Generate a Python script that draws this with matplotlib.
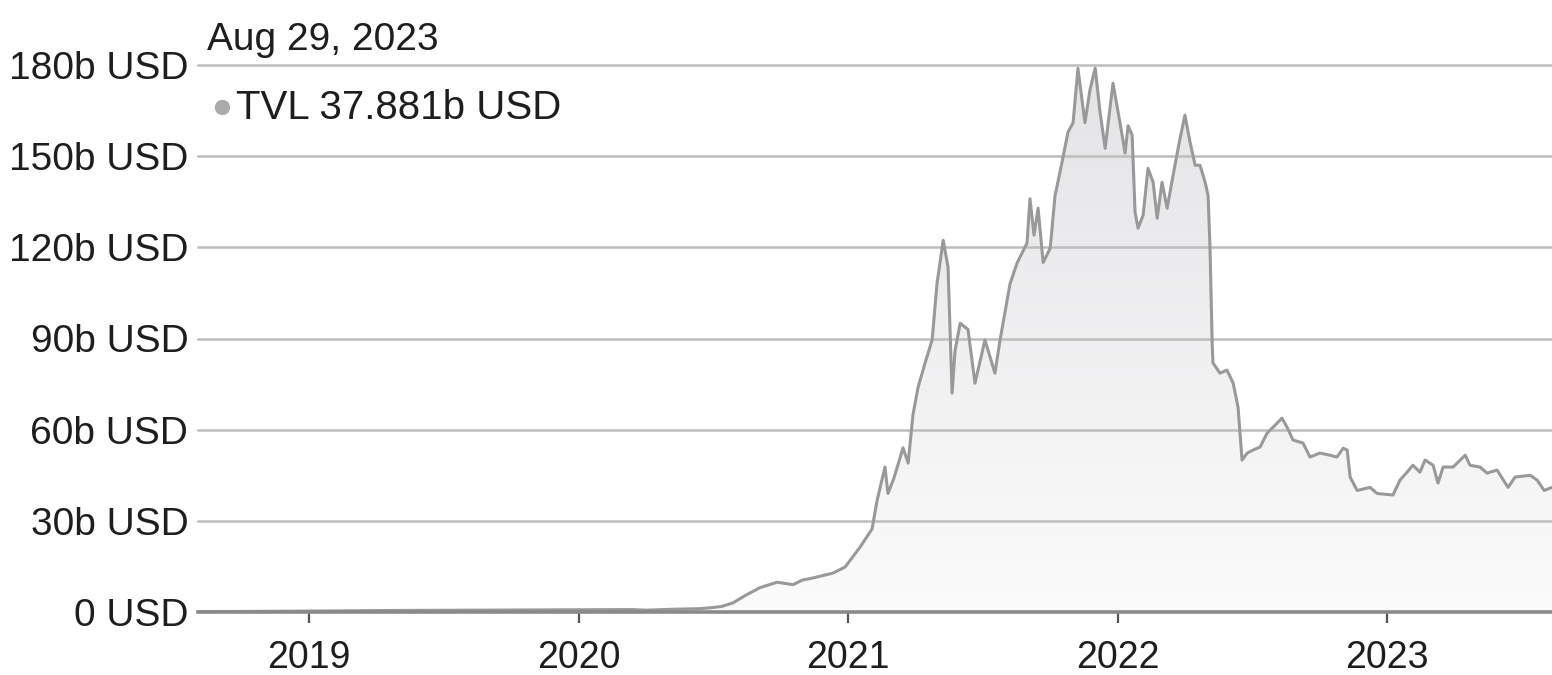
import matplotlib
matplotlib.use("Agg")
import matplotlib.pyplot as plt
import numpy as np
from matplotlib.patches import PathPatch
from matplotlib.path import Path
from matplotlib.colors import LinearSegmentedColormap

plt.rcParams['font.family'] = ['Liberation Sans', 'DejaVu Sans']

# Time in decimal years, TVL in billions USD
years = [2018.59, 2018.80, 2019.00, 2019.30, 2019.60, 2019.85, 2020.00, 2020.20, 2020.25,
         2020.35, 2020.45, 2020.49, 2020.53, 2020.573, 2020.62, 2020.673, 2020.737, 2020.796,
         2020.83, 2020.870, 2020.944, 2020.989, 2021.045, 2021.089, 2021.108, 2021.137,
         2021.148, 2021.17, 2021.204, 2021.223, 2021.241, 2021.260, 2021.286, 2021.312,
         2021.330, 2021.353, 2021.371, 2021.386, 2021.397, 2021.416, 2021.445, 2021.471,
         2021.508, 2021.545, 2021.564, 2021.601, 2021.627, 2021.664, 2021.675, 2021.690,
         2021.705, 2021.724, 2021.750, 2021.768, 2021.794, 2021.816, 2021.835, 2021.853,
         2021.879, 2021.898, 2021.917, 2021.935, 2021.954, 2021.983, 2022.009, 2022.028,
         2022.039, 2022.054, 2022.065, 2022.076, 2022.095, 2022.113, 2022.132, 2022.147,
         2022.165, 2022.184, 2022.206, 2022.232, 2022.250, 2022.269, 2022.288, 2022.306,
         2022.325, 2022.336, 2022.343, 2022.351, 2022.354, 2022.380, 2022.406, 2022.429,
         2022.447, 2022.462, 2022.481, 2022.503, 2022.529, 2022.555, 2022.577, 2022.610,
         2022.629, 2022.651, 2022.688, 2022.714, 2022.751, 2022.788, 2022.814, 2022.837,
         2022.852, 2022.863, 2022.889, 2022.937, 2022.963, 2023.022, 2023.048, 2023.074,
         2023.096, 2023.122, 2023.141, 2023.171, 2023.189, 2023.208, 2023.245, 2023.290,
         2023.308, 2023.345, 2023.371, 2023.408, 2023.449, 2023.475, 2023.531, 2023.557,
         2023.583, 2023.612]
tvl = [0.1, 0.2, 0.3, 0.5, 0.6, 0.65, 0.7, 0.8, 0.6,
       0.9, 1.1, 1.4, 1.8, 3.0, 5.5, 8.0, 9.8, 9.0,
       10.5, 11.2, 12.8, 14.8, 21.4, 27.3, 36.8, 47.7,
       39.0, 44.0, 54.0, 49.0, 65.0, 74.0, 82.0, 89.5,
       108.0, 122.3, 113.5, 72.0, 86.0, 95.0, 93.0, 75.3,
       89.5, 78.6, 89.5, 108.0, 114.8, 121.4, 136.0, 124.0,
       132.9, 115.0, 119.7, 137.0, 148.0, 157.9, 161.0, 178.9,
       161.0, 172.0, 179.0, 164.5, 152.6, 174.0, 161.0, 151.0,
       160.0, 157.0, 131.6, 126.3, 130.6, 146.0, 141.4, 129.6,
       141.4, 132.9, 143.7, 155.9, 163.5, 154.6, 147.0, 147.0,
       141.4, 137.0, 120.0, 88.8, 82.0, 78.6, 79.6, 75.3,
       67.4, 50.0, 52.3, 53.3, 54.3, 58.9, 60.8, 63.8,
       60.8, 56.6, 55.6, 51.0, 52.3, 51.6, 51.0, 53.9,
       53.3, 44.4, 40.0, 41.0, 39.0, 38.5, 43.4, 46.0,
       48.3, 46.0, 50.0, 48.3, 42.4, 47.7, 47.7, 51.6,
       48.3, 47.7, 45.7, 46.7, 41.0, 44.4, 45.0, 43.4,
       40.0, 41.0]

y_ticks = [0, 30, 60, 90, 120, 150, 180]
y_labels = ['0 USD', '30b USD', '60b USD', '90b USD', '120b USD', '150b USD', '180b USD']
x_ticks = [2019, 2020, 2021, 2022, 2023]
x_labels = ['2019', '2020', '2021', '2022', '2023']
date_label = 'Aug 29, 2023'
legend_label = 'TVL 37.881b USD'

W, H = 1552, 675
fig = plt.figure(figsize=(W / 100, H / 100), dpi=100)
ax = fig.add_axes([198 / W, 1 - 612 / H, 1 - 198 / W, (612 - 65) / H])

x0, x1 = 2018.588, 2023.612
ax.set_xlim(x0, x1)
ax.set_ylim(0, 180)

# gradient fill under curve
xs = np.array(years)
ys = np.array(tvl)
verts = [(xs[0], 0)] + list(zip(xs, ys)) + [(xs[-1], 0)]
patch = PathPatch(Path(verts), facecolor='none', edgecolor='none')
ax.add_patch(patch)
grad = np.linspace(0, 1, 256).reshape(-1, 1)
cmap = LinearSegmentedColormap.from_list('g', ['#fbfbfb', '#e4e4e7'])
im = ax.imshow(grad, extent=[x0, x1, 0, 180], origin='lower', aspect='auto',
               cmap=cmap, zorder=1)
im.set_clip_path(patch)

# gridlines
for yv in y_ticks[1:]:
    ax.axhline(yv, color='#bdbdbd', lw=1.8, zorder=2, clip_on=False)
ax.axhline(0, color='#8a8a8a', lw=2.6, zorder=4, clip_on=False)

ax.plot(xs, ys, color='#999999', lw=2.2, zorder=3, solid_joinstyle='round')

for s in ax.spines.values():
    s.set_visible(False)

ax.set_yticks(y_ticks)
ax.set_yticklabels(y_labels, fontsize=28, color='#1e1e1e')
ax.tick_params(axis='y', length=0, pad=7)
ax.set_xticks(x_ticks)
ax.set_xticklabels(x_labels, fontsize=27, color='#1e1e1e')
ax.tick_params(axis='x', length=8, width=1.6, color='#555555', pad=12)

fig.text(207 / W, 1 - 50 / H, date_label, fontsize=28, color='#1e1e1e', va='baseline', ha='left')
fig.text(236 / W, 1 - 119 / H, legend_label, fontsize=29, color='#1e1e1e', va='baseline', ha='left')
fig.lines.append(plt.Line2D([222 / W], [1 - 107 / H], marker='o', markersize=10,
                            color='#aaaaaa', transform=fig.transFigure))

fig.savefig('out.png', dpi=100, facecolor='white')
